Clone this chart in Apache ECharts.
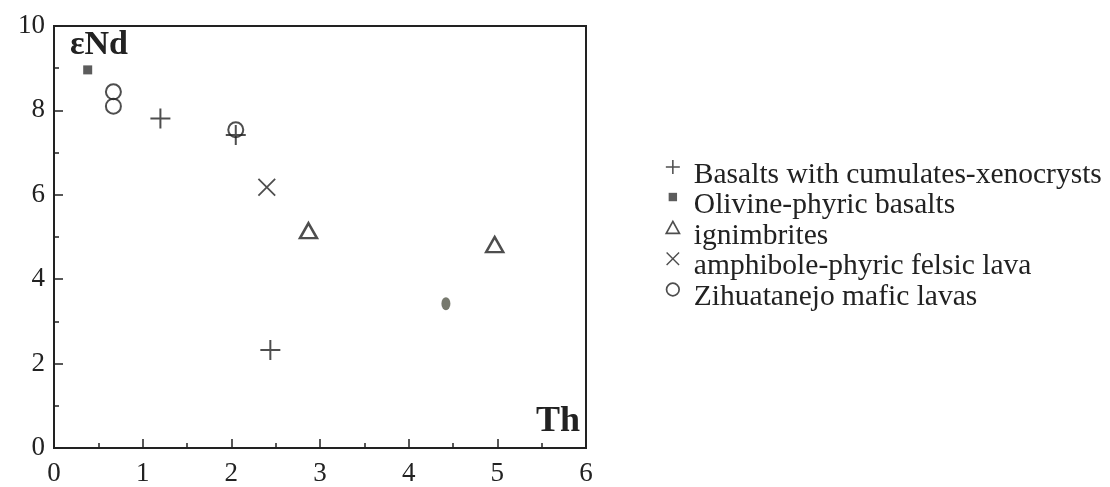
<!DOCTYPE html>
<html>
<head>
<meta charset="utf-8">
<script src="https://cdn.jsdelivr.net/npm/echarts@6/dist/echarts.min.js"></script>
<style>
  html, body { margin: 0; padding: 0; background: #fff; }
  #chart { width: 1110px; height: 487px; }
</style>
</head>
<body>
<div id="chart"></div>
<script>
// values (Th, eNd)
var basalts = [[1.20, 7.81], [2.05, 7.42], [2.44, 2.32]];
var olivine = [[0.38, 8.96]];
var ignimbrites = [[2.87, 5.15], [4.97, 4.82]];
var amphibole = [[2.40, 6.18]];
var zihuatanejo = [[0.67, 8.44], [0.67, 8.10], [2.05, 7.54]];
var smudge = [[4.42, 3.42]];
var seriesNames = ['Basalts with cumulates-xenocrysts', 'Olivine-phyric basalts', 'ignimbrites', 'amphibole-phyric felsic lava', 'Zihuatanejo mafic lavas'];
var xTicks = [0, 1, 2, 3, 4, 5, 6];
var yTicks = [0, 2, 4, 6, 8, 10];

var ink = '#222';
var serif = '"Liberation Serif", "DejaVu Serif", serif';
var plusPath = 'path://M4.5,0h1v4.5h4.5v1h-4.5v4.5h-1v-4.5h-4.5v-1h4.5z';
var crossPath = 'path://M0.7,0L5,4.3L9.3,0L10,0.7L5.7,5L10,9.3L9.3,10L5,5.7L0.7,10L0,9.3L4.3,5L0,0.7Z';

// legend icons sit in the upper part of a tall box (the empty points pad the box)
function legendIcon(shape) {
  return 'path://M0,0L0,0 ' + shape + ' M10,21.4L10,21.4';
}
var legendIcons = [
  legendIcon('M4.45,0h1.1v4.45h4.45v1.1h-4.45v4.45h-1.1v-4.45h-4.45v-1.1h4.45z'),
  legendIcon('M2,2h6v6h-6z'),
  legendIcon('M5,0.4L9.7,8.9L0.3,8.9Z'),
  legendIcon('M0.9,0.2L5,4.3L9.1,0.2L9.8,0.9L5.7,5L9.8,9.1L9.1,9.8L5,5.7L0.9,9.8L0.2,9.1L4.3,5L0.2,0.9Z'),
  legendIcon('M0.5,5A4.5,4.5 0 1,0 9.5,5A4.5,4.5 0 1,0 0.5,5Z')
];

var chart = echarts.init(document.getElementById('chart'));

var axisCommon = {
  type: 'value',
  axisLine: { show: true, lineStyle: { color: ink, width: 2 } },
  axisTick: { show: true, inside: true, length: 9, lineStyle: { color: ink, width: 1.5 } },
  minorTick: { show: true, splitNumber: 2, length: 5, lineStyle: { color: ink, width: 1.5 } },
  splitLine: { show: false },
  axisLabel: { color: ink, fontFamily: serif, fontSize: 27 }
};

var option = {
  backgroundColor: '#fff',
  animation: false,
  grid: {
    left: 54, right: 524, top: 26, bottom: 39,
    show: true, borderColor: ink, borderWidth: 2
  },
  xAxis: echarts.util.merge({
    min: xTicks[0], max: xTicks[xTicks.length - 1], interval: 1,
    axisLabel: { margin: 12 }
  }, axisCommon),
  yAxis: echarts.util.merge({
    min: yTicks[0], max: yTicks[yTicks.length - 1], interval: 2,
    axisLabel: { margin: 9 }
  }, axisCommon),
  legend: {
    data: seriesNames.map(function(name, i) {
      var item = { name: name, icon: legendIcons[i] };
      if (i == 2 || i == 4) {
        item.itemStyle = { borderWidth: 1.7 };
      }
      return item;
    }),
    orient: 'vertical',
    left: 665, top: 160,
    padding: 0,
    itemGap: 0,
    itemWidth: 14, itemHeight: 30,
    textStyle: { color: ink, fontFamily: serif, fontSize: 29.5, lineHeight: 30, padding: [0, 0, 0, 9] }
  },
  graphic: [
    { type: 'text', left: 70, top: 28, style: { text: 'εNd', fill: ink, font: 'bold 34px ' + serif } },
    { type: 'text', left: 536, top: 404, style: { text: 'Th', fill: ink, font: 'bold 36px ' + serif } }
  ],
  series: [
    {
      name: seriesNames[0], type: 'scatter', data: basalts,
      symbol: plusPath, symbolSize: 20,
      itemStyle: { color: ink }
    },
    {
      name: seriesNames[1], type: 'scatter', data: olivine,
      symbol: 'rect', symbolSize: 9,
      itemStyle: { color: '#333' }
    },
    {
      name: seriesNames[2], type: 'scatter', data: ignimbrites,
      symbol: 'triangle', symbolSize: [17, 15],
      itemStyle: { color: 'rgba(0,0,0,0)', borderColor: ink, borderWidth: 2.5 }
    },
    {
      name: seriesNames[3], type: 'scatter', data: amphibole,
      symbol: crossPath, symbolSize: 18,
      itemStyle: { color: ink }
    },
    {
      name: seriesNames[4], type: 'scatter', data: zihuatanejo,
      symbol: 'circle', symbolSize: 15,
      itemStyle: { color: 'rgba(0,0,0,0)', borderColor: ink, borderWidth: 2 }
    },
    {
      name: 'smudge', type: 'scatter', data: smudge,
      symbol: 'circle', symbolSize: [9, 13],
      itemStyle: { color: '#55574a' }
    }
  ]
};

chart.setOption(option);
</script>
</body>
</html>
